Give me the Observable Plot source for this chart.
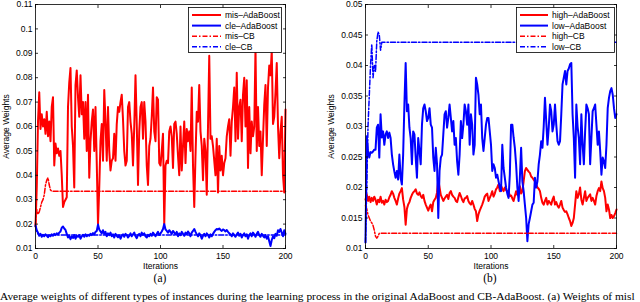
<!DOCTYPE html>
<html><head><meta charset="utf-8">
<script src="https://cdn.jsdelivr.net/npm/d3@7"></script>
<script src="https://cdn.jsdelivr.net/npm/@observablehq/plot@0.6"></script>
<style>
body{margin:0;background:#fff;}
#wrap{position:relative;width:640px;height:302px;overflow:hidden;background:#fff;}
.panel{position:absolute;top:0;}
.legend{position:absolute;}
.sub{position:absolute;top:272px;font:11.5px "Liberation Serif",serif;transform:translateX(-50%);}
.caption{position:absolute;left:0;top:290px;font:11.4px "Liberation Serif",serif;white-space:nowrap;line-height:13px;}
</style></head><body><div id="wrap"></div>
<script>
// ---------- data ----------
const xTicks = [0, 50, 100, 150, 200];
const yTicksA = [0.01, 0.02, 0.03, 0.04, 0.05, 0.06, 0.07, 0.08, 0.09, 0.1, 0.11];
const yTicksB = [0.01, 0.015, 0.02, 0.025, 0.03, 0.035, 0.04, 0.045, 0.05];
const namesA = ["mis\u2013AdaBoost", "cle\u2013AdaBoost", "mis\u2013CB", "cle\u2013CB"];
const namesB = ["high\u2013AdaBoost", "low\u2013AdaBoost", "high\u2013CB", "low\u2013CB"];

const misAda = [
0.019,0.035,0.062,0.074,0.059,0.065,0.060,0.063,0.057,0.066,
0.056,0.062,0.054,0.068,0.072,0.044,0.053,0.049,0.051,0.048,
0.050,0.040,0.027,0.029,0.030,0.031,0.068,0.078,0.084,0.060,
0.052,0.035,0.077,0.083,0.072,0.064,0.081,0.065,0.070,0.055,
0.070,0.050,0.073,0.039,0.054,0.062,0.067,0.050,0.068,0.045,
0.020,0.035,0.054,0.061,0.046,0.075,0.062,0.046,0.068,0.050,
0.042,0.046,0.047,0.057,0.046,0.061,0.068,0.066,0.070,0.073,
0.063,0.050,0.044,0.046,0.068,0.070,0.062,0.057,0.044,0.060,
0.081,0.061,0.036,0.058,0.068,0.070,0.055,0.070,0.062,0.044,
0.036,0.052,0.055,0.064,0.076,0.058,0.054,0.072,0.071,0.045,
0.044,0.050,0.057,0.020,0.044,0.046,0.045,0.058,0.060,0.056,
0.043,0.061,0.062,0.057,0.048,0.040,0.060,0.042,0.052,0.062,
0.045,0.059,0.054,0.058,0.050,0.076,0.044,0.027,0.048,0.066,
0.062,0.077,0.058,0.052,0.038,0.055,0.050,0.032,0.060,0.089,
0.055,0.056,0.052,0.046,0.040,0.055,0.033,0.052,0.042,0.048,
0.040,0.045,0.047,0.056,0.060,0.063,0.048,0.062,0.068,0.076,
0.054,0.082,0.055,0.068,0.071,0.054,0.073,0.080,0.060,0.079,
0.043,0.068,0.049,0.062,0.056,0.060,0.092,0.050,0.068,0.052,
0.058,0.040,0.055,0.069,0.077,0.052,0.076,0.085,0.081,0.091,
0.061,0.064,0.074,0.086,0.060,0.047,0.058,0.064,0.040,0.033,
0.067];
const cleAda = [
0.0195,0.0175,0.0165,0.0152,0.0160,0.0148,0.0156,0.0150,0.0158,0.0153,
0.0146,0.0155,0.0150,0.0158,0.0152,0.0160,0.0155,0.0162,0.0158,0.0165,
0.0170,0.0185,0.0190,0.0182,0.0176,0.0160,0.0145,0.0152,0.0138,0.0150,
0.0143,0.0155,0.0140,0.0152,0.0148,0.0155,0.0140,0.0150,0.0156,0.0148,
0.0158,0.0150,0.0156,0.0152,0.0160,0.0155,0.0163,0.0158,0.0168,0.0172,
0.0198,0.0178,0.0170,0.0162,0.0175,0.0160,0.0168,0.0150,0.0162,0.0155,
0.0165,0.0150,0.0158,0.0145,0.0160,0.0152,0.0146,0.0155,0.0140,0.0152,
0.0158,0.0148,0.0160,0.0155,0.0145,0.0152,0.0162,0.0150,0.0158,0.0165,
0.0150,0.0142,0.0155,0.0160,0.0150,0.0165,0.0156,0.0162,0.0150,0.0145,
0.0156,0.0150,0.0160,0.0152,0.0165,0.0158,0.0150,0.0160,0.0168,0.0155,
0.0162,0.0170,0.0180,0.0200,0.0178,0.0172,0.0165,0.0175,0.0168,0.0160,
0.0172,0.0165,0.0158,0.0168,0.0150,0.0162,0.0155,0.0168,0.0160,0.0152,
0.0165,0.0158,0.0170,0.0162,0.0150,0.0165,0.0172,0.0180,0.0168,0.0158,
0.0150,0.0162,0.0155,0.0140,0.0152,0.0160,0.0150,0.0162,0.0155,0.0145,
0.0158,0.0150,0.0160,0.0168,0.0175,0.0180,0.0178,0.0182,0.0176,0.0172,
0.0178,0.0175,0.0170,0.0176,0.0168,0.0162,0.0158,0.0150,0.0162,0.0155,
0.0148,0.0158,0.0165,0.0152,0.0160,0.0145,0.0155,0.0162,0.0150,0.0158,
0.0140,0.0155,0.0162,0.0150,0.0165,0.0158,0.0148,0.0160,0.0168,0.0155,
0.0148,0.0160,0.0152,0.0145,0.0155,0.0140,0.0150,0.0130,0.0110,0.0135,
0.0150,0.0142,0.0160,0.0152,0.0175,0.0168,0.0180,0.0165,0.0150,0.0175,
0.0160];
const misCBIter = [0,1,2,3,4,5,6,7,8,9,10,11,12,13,200];
const misCB = [0.020,0.026,0.024,0.025,0.027,0.029,0.030,0.032,0.036,0.038,0.039,0.036,0.034,0.0335,0.0335];
const cleCBIter = [0,1,2,3,200];
const cleCB = [0.019,0.017,0.016,0.0155,0.0155];

const highAda = [
0.0180,0.0189,0.0178,0.0185,0.0176,0.0183,0.0178,0.0185,0.0180,0.0172,
0.0180,0.0176,0.0185,0.0175,0.0178,0.0172,0.0180,0.0176,0.0178,0.0184,
0.0188,0.0194,0.0190,0.0183,0.0178,0.0172,0.0182,0.0190,0.0194,0.0199,
0.0180,0.0168,0.0139,0.0165,0.0172,0.0176,0.0183,0.0188,0.0192,0.0194,
0.0197,0.0190,0.0188,0.0192,0.0186,0.0183,0.0188,0.0178,0.0172,0.0167,
0.0162,0.0168,0.0172,0.0161,0.0176,0.0180,0.0183,0.0192,0.0213,0.0200,
0.0188,0.0183,0.0178,0.0182,0.0185,0.0188,0.0181,0.0191,0.0194,0.0188,
0.0185,0.0183,0.0178,0.0176,0.0184,0.0191,0.0186,0.0180,0.0176,0.0182,
0.0183,0.0186,0.0178,0.0174,0.0172,0.0178,0.0172,0.0165,0.0161,0.0145,
0.0156,0.0162,0.0167,0.0172,0.0178,0.0185,0.0188,0.0190,0.0178,0.0183,
0.0188,0.0194,0.0185,0.0190,0.0197,0.0200,0.0205,0.0194,0.0203,0.0198,
0.0194,0.0200,0.0196,0.0194,0.0194,0.0186,0.0187,0.0182,0.0178,0.0186,
0.0194,0.0188,0.0192,0.0202,0.0190,0.0194,0.0210,0.0227,0.0232,0.0229,
0.0226,0.0224,0.0218,0.0216,0.0213,0.0210,0.0205,0.0200,0.0198,0.0194,
0.0183,0.0175,0.0172,0.0178,0.0183,0.0172,0.0178,0.0175,0.0172,0.0180,
0.0185,0.0172,0.0176,0.0170,0.0167,0.0172,0.0178,0.0167,0.0163,0.0160,
0.0161,0.0156,0.0150,0.0145,0.0137,0.0142,0.0150,0.0172,0.0194,0.0183,
0.0189,0.0200,0.0180,0.0172,0.0183,0.0194,0.0178,0.0183,0.0186,0.0189,
0.0178,0.0183,0.0178,0.0172,0.0186,0.0194,0.0199,0.0194,0.0210,0.0199,
0.0194,0.0183,0.0161,0.0172,0.0164,0.0150,0.0155,0.0150,0.0153,0.0158,
0.0164];
const lowAda = [
0.0110,0.0284,0.0260,0.0249,0.0258,0.0257,0.0259,0.0262,0.0262,0.0298,
0.0303,0.0249,0.0320,0.0282,0.0292,0.0270,0.0287,0.0292,0.0281,0.0290,
0.0281,0.0254,0.0238,0.0226,0.0216,0.0227,0.0213,0.0254,0.0216,0.0205,
0.0254,0.0336,0.0404,0.0325,0.0336,0.0298,0.0281,0.0238,0.0292,0.0287,
0.0249,0.0216,0.0281,0.0260,0.0238,0.0303,0.0330,0.0336,0.0325,0.0309,
0.0314,0.0330,0.0303,0.0298,0.0249,0.0227,0.0265,0.0238,0.0150,0.0227,
0.0249,0.0254,0.0287,0.0320,0.0325,0.0298,0.0314,0.0336,0.0314,0.0292,
0.0309,0.0270,0.0281,0.0243,0.0221,0.0254,0.0309,0.0281,0.0303,0.0336,
0.0325,0.0303,0.0336,0.0270,0.0320,0.0303,0.0254,0.0270,0.0380,0.0369,
0.0352,0.0320,0.0336,0.0281,0.0260,0.0281,0.0303,0.0314,0.0314,0.0292,
0.0270,0.0227,0.0238,0.0232,0.0216,0.0221,0.0210,0.0200,0.0194,0.0270,
0.0232,0.0216,0.0200,0.0190,0.0183,0.0221,0.0303,0.0303,0.0282,0.0265,
0.0238,0.0200,0.0178,0.0216,0.0265,0.0210,0.0194,0.0172,0.0150,0.0112,
0.0140,0.0150,0.0161,0.0172,0.0175,0.0216,0.0200,0.0210,0.0238,0.0254,
0.0276,0.0265,0.0300,0.0347,0.0309,0.0270,0.0298,0.0336,0.0325,0.0292,
0.0303,0.0336,0.0303,0.0276,0.0270,0.0276,0.0320,0.0369,0.0380,0.0391,
0.0369,0.0391,0.0395,0.0402,0.0404,0.0320,0.0281,0.0216,0.0336,0.0300,
0.0281,0.0238,0.0320,0.0270,0.0238,0.0292,0.0336,0.0330,0.0320,0.0238,
0.0281,0.0325,0.0330,0.0336,0.0303,0.0270,0.0292,0.0260,0.0221,0.0249,
0.0243,0.0232,0.0270,0.0330,0.0347,0.0358,0.0363,0.0352,0.0330,0.0314,
0.0320];
const highCBIter = [0,1,2,3,4,5,6,7,8,9,10,11,200];
const highCB = [0.017,0.0165,0.0155,0.015,0.0145,0.0142,0.0138,0.013,0.012,0.0117,0.012,0.0125,0.0125];
const lowCBIter = [0,1,2,3,4,5,6,7,8,9,10,11,12,13,200];
const lowCB = [0.011,0.020,0.030,0.035,0.040,0.0435,0.038,0.040,0.039,0.044,0.0455,0.045,0.0425,0.0438,0.0438];

const caption = "Average weights of different types of instances during the learning process in the original AdaBoost and CB-AdaBoost. (a) Weights of misl";

// ---------- styles ----------
const RED = "#ff0000", BLUE = "#0000ff";
const DASHDOT = "5,2,1.5,2";
const FONT = "Liberation Sans, Arial, sans-serif";
const FS = 8.5;
const fmt = d => String(+d.toFixed(3));
const blank = () => "";

function makePanel(cfg) {
  const W = 320, H = 272, mT = 4, mB = 24;
  const lines = cfg.series.map(s => s.iter
    ? Plot.line(s.values, {x: s.iter, y: s.values, stroke: s.color, strokeWidth: 1.5, strokeDasharray: DASHDOT})
    : Plot.lineY(s.values, {x: (d, i) => i, y: d => d, stroke: s.color, strokeWidth: 2, strokeLinejoin: "round"}));
  return Plot.plot({
    width: W, height: H,
    marginLeft: cfg.mL, marginRight: cfg.mR, marginTop: mT, marginBottom: mB,
    style: {fontFamily: FONT, fontSize: FS + "px", color: "#000", background: "transparent"},
    x: {domain: [0, 200]},
    y: {domain: cfg.yDomain},
    marks: [
      ...lines,
      Plot.frame({stroke: "#000", strokeWidth: 0.8}),
      Plot.axisX(xTicks, {anchor: "bottom", tickSize: 0, tickPadding: 4, label: null, fontSize: FS}),
      Plot.axisX(xTicks, {anchor: "bottom", tickSize: -3, tickFormat: blank, label: null, strokeWidth: 0.8}),
      Plot.axisX(xTicks, {anchor: "top", tickSize: -3, tickFormat: blank, label: null, strokeWidth: 0.8}),
      Plot.axisY(cfg.yTicks, {anchor: "left", tickSize: 0, tickPadding: 3, tickFormat: fmt, label: null, fontSize: FS}),
      Plot.axisY(cfg.yTicks, {anchor: "left", tickSize: -3, tickFormat: blank, label: null, strokeWidth: 0.8}),
      Plot.axisY(cfg.yTicks, {anchor: "right", tickSize: -3, tickFormat: blank, label: null, strokeWidth: 0.8}),
      Plot.text(["Average Weights"], {frameAnchor: "left", rotate: -90, dx: -(cfg.mL - cfg.labelX), text: d => d, textAnchor: "middle", lineAnchor: "middle", fontSize: FS, fill: "#000"}),
      Plot.text(["Iterations"], {frameAnchor: "bottom", dy: 18, text: d => d, textAnchor: "middle", lineAnchor: "middle", fontSize: FS, fill: "#000"})
    ]
  });
}

function makeLegend(series, box) {
  const div = document.createElement("div");
  div.className = "legend";
  div.style.left = box.left + "px";
  div.style.top = box.top + "px";
  const svg = d3.create("svg").attr("width", box.w).attr("height", box.h);
  svg.append("rect").attr("x", 0.5).attr("y", 0.5).attr("width", box.w - 1).attr("height", box.h - 1)
    .attr("fill", "#fff").attr("stroke", "#000").attr("stroke-width", 0.8);
  series.forEach((s, k) => {
    const y = 8 + k * 10.6;
    svg.append("line").attr("x1", 4).attr("x2", box.sw).attr("y1", y).attr("y2", y)
      .attr("stroke", s.color).attr("stroke-width", s.iter ? 1.5 : 2)
      .attr("stroke-dasharray", s.iter ? DASHDOT : null);
    svg.append("text").attr("x", box.sw + 4).attr("y", y).attr("dy", "0.35em")
      .attr("font-family", FONT).attr("font-size", FS).attr("fill", "#000").text(s.name);
  });
  div.appendChild(svg.node());
  return div;
}

const seriesA = [
  {name: namesA[0], values: misAda, color: RED},
  {name: namesA[1], values: cleAda, color: BLUE},
  {name: namesA[2], values: misCB, iter: misCBIter, color: RED},
  {name: namesA[3], values: cleCB, iter: cleCBIter, color: BLUE}
];
const seriesB = [
  {name: namesB[0], values: highAda, color: RED},
  {name: namesB[1], values: lowAda, color: BLUE},
  {name: namesB[2], values: highCB, iter: highCBIter, color: RED},
  {name: namesB[3], values: lowCB, iter: lowCBIter, color: BLUE}
];

const wrap = document.getElementById("wrap");
const pA = makePanel({series: seriesA, yDomain: [0.01, 0.11], yTicks: yTicksA, mL: 35, mR: 35, labelX: 6});
const pB = makePanel({series: seriesB, yDomain: [0.01, 0.05], yTicks: yTicksB, mL: 45, mR: 24, labelX: 11});
[pA, pB].forEach((p, k) => { p.classList.add("panel"); p.style.left = (k * 320) + "px"; wrap.appendChild(p); });

wrap.appendChild(makeLegend(seriesA, {left: 188, top: 7, w: 94, h: 46, sw: 33}));
wrap.appendChild(makeLegend(seriesB, {left: 516, top: 7, w: 99, h: 46, sw: 32}));

["(a)", "(b)"].forEach((t, k) => {
  const d = document.createElement("div");
  d.className = "sub"; d.textContent = t;
  d.style.left = (k === 0 ? 160 : 490) + "px";
  wrap.appendChild(d);
});
const cap = document.createElement("div");
cap.className = "caption"; cap.textContent = caption;
wrap.appendChild(cap);
</script></body></html>
